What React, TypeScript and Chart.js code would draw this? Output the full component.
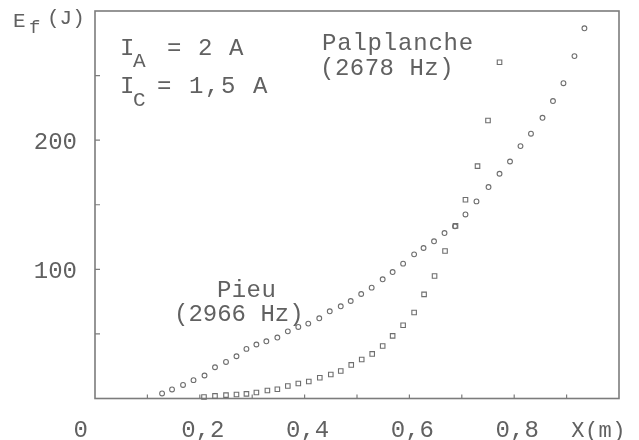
import React, { useEffect, useRef } from "react";
import Chart from "chart.js/auto";

// Pieu (2966 Hz) – circles
const pieuX = [0.128, 0.147, 0.168, 0.188, 0.209, 0.229, 0.25, 0.27, 0.289, 0.308, 0.327, 0.348, 0.368, 0.388, 0.407, 0.428, 0.448, 0.469, 0.488, 0.508, 0.528, 0.549, 0.568, 0.588, 0.609, 0.627, 0.647, 0.667, 0.687, 0.707, 0.728, 0.751, 0.772, 0.792, 0.812, 0.832, 0.854, 0.874, 0.894, 0.915, 0.934];
const pieuE = [3.9, 7.0, 10.5, 14.2, 17.8, 24.2, 28.3, 32.7, 38.4, 41.8, 44.3, 47.2, 52.0, 55.4, 58.0, 62.1, 67.5, 71.4, 75.5, 80.9, 85.8, 92.3, 97.9, 104.4, 111.6, 116.5, 121.7, 128.1, 133.3, 142.5, 152.6, 163.7, 174.0, 183.5, 195.4, 205.0, 217.3, 230.3, 244.1, 265.1, 286.6];

// Palplanche (2678 Hz) – squares
const palX = [0.208, 0.229, 0.25, 0.27, 0.289, 0.308, 0.329, 0.348, 0.368, 0.388, 0.408, 0.429, 0.45, 0.469, 0.489, 0.509, 0.529, 0.549, 0.568, 0.588, 0.609, 0.628, 0.648, 0.668, 0.688, 0.707, 0.73, 0.75, 0.772];
const palE = [1.2, 2.0, 2.6, 3.1, 3.6, 4.6, 6.2, 7.2, 9.7, 11.6, 13.2, 16.1, 18.6, 21.3, 26.0, 30.2, 34.5, 40.6, 48.5, 56.7, 66.6, 80.6, 94.8, 114.2, 133.6, 153.9, 179.9, 215.2, 260.3];

const xMin = 0;
const xMax = 1.0;
const yMin = 0;
const yMax = 300;
const xMinorTicks = [0.1, 0.2, 0.3, 0.4, 0.5, 0.6, 0.7, 0.8, 0.9];
const yMinorTicks = [50, 100, 150, 200, 250];
const xTickLabels: [number, string][] = [
  [0.2, "0,2"],
  [0.4, "0,4"],
  [0.6, "0,6"],
  [0.8, "0,8"],
];
const yTickLabels: [number, string][] = [
  [100, "100"],
  [200, "200"],
];

const FONT = '"Liberation Mono", "DejaVu Sans Mono", monospace';
const INK = "#616161";
const LINE = "#7c7c7c";

function txt(ctx: CanvasRenderingContext2D, s: string, x: number, y: number, size = 24, ls = 0, align: CanvasTextAlign = "left") {
  ctx.save();
  ctx.font = `${size}px ${FONT}`;
  (ctx as any).letterSpacing = `${ls}px`;
  ctx.fillStyle = INK;
  ctx.textAlign = align;
  ctx.textBaseline = "alphabetic";
  ctx.fillText(s, x, y);
  ctx.restore();
}

const framePlugin = {
  id: "frame",
  beforeDatasetsDraw(chart: any) {
    const { ctx, chartArea: a, scales } = chart;
    ctx.save();
    ctx.strokeStyle = LINE;
    ctx.lineWidth = 1.6;
    ctx.strokeRect(a.left, a.top, a.right - a.left, a.bottom - a.top);
    ctx.lineWidth = 1.2;
    ctx.beginPath();
    for (const v of yMinorTicks) {
      const y = scales.y.getPixelForValue(v);
      ctx.moveTo(a.left, y);
      ctx.lineTo(a.left + 5, y);
    }
    for (const v of xMinorTicks) {
      const x = scales.x.getPixelForValue(v);
      ctx.moveTo(x, a.bottom);
      ctx.lineTo(x, a.bottom - 4);
    }
    ctx.stroke();
    ctx.restore();
  },
  afterDraw(chart: any) {
    const { ctx, chartArea: a, scales } = chart;
    // axis labels
    for (const [v, s] of yTickLabels) {
      txt(ctx, s, 77, scales.y.getPixelForValue(v) + 9, 24, 0, "right");
    }
    txt(ctx, "0", 88, 437, 24, 0, "right");
    for (const [v, s] of xTickLabels) {
      txt(ctx, s, scales.x.getPixelForValue(v) + 3, 437, 24, 0, "center");
    }
    txt(ctx, "X(m)", 626, 437, 22, 0.5, "right");
    // Y axis title E_f(J)
    txt(ctx, "E", 13, 27, 21);
    txt(ctx, "f", 29, 33, 19);
    txt(ctx, "(J)", 47, 24, 21);
    // currents
    txt(ctx, "I", 120, 55, 24);
    txt(ctx, "A", 133, 67, 21);
    txt(ctx, "= 2 A", 167, 55, 24, 1.1);
    txt(ctx, "I", 120, 93, 24);
    txt(ctx, "C", 133, 106, 21);
    txt(ctx, "= 1,5 A", 157, 93, 24, 1.6);
    // series annotations
    txt(ctx, "Palplanche", 322, 50, 24, 0.8);
    txt(ctx, "(2678 Hz)", 320, 75, 24, 0.5);
    txt(ctx, "Pieu", 217, 297, 24, 0.4);
    txt(ctx, "(2966 Hz)", 174, 321, 24, 0);
  },
};

export default function App() {
  const ref = useRef<HTMLCanvasElement | null>(null);
  useEffect(() => {
    if (!ref.current) return;
    const chart = new Chart(ref.current, {
      type: "scatter",
      data: {
        datasets: [
          {
            label: "Pieu (2966 Hz)",
            data: pieuX.map((x, i) => ({ x, y: pieuE[i] })),
            pointStyle: "circle",
            pointRadius: 2.4,
            pointBorderWidth: 1.1,
            pointBorderColor: "#6e6e6e",
            pointBackgroundColor: "rgba(255,255,255,0)",
            showLine: false,
          },
          {
            label: "Palplanche (2678 Hz)",
            data: palX.map((x, i) => ({ x, y: palE[i] })),
            pointStyle: "rect",
            pointRadius: 3.2,
            pointBorderWidth: 1.1,
            pointBorderColor: "#6e6e6e",
            pointBackgroundColor: "rgba(255,255,255,0)",
            showLine: false,
          },
        ],
      },
      options: {
        responsive: false,
        animation: false,
        devicePixelRatio: 1,
        clip: false as any,
        layout: { padding: { left: 95, right: 20, top: 11, bottom: 41.5 } },
        plugins: {
          legend: { display: false },
          tooltip: { enabled: false },
        },
        scales: {
          x: { type: "linear", min: xMin, max: xMax, display: false },
          y: { type: "linear", min: yMin, max: yMax, display: false },
        },
      },
      plugins: [framePlugin],
    });
    return () => chart.destroy();
  }, []);
  return (
    <div style={{ position: "absolute", left: 0, top: 0, width: 639, height: 440, background: "#fff" }}>
      <canvas ref={ref} width={639} height={440} style={{ width: 639, height: 440, display: "block" }} />
    </div>
  );
}
